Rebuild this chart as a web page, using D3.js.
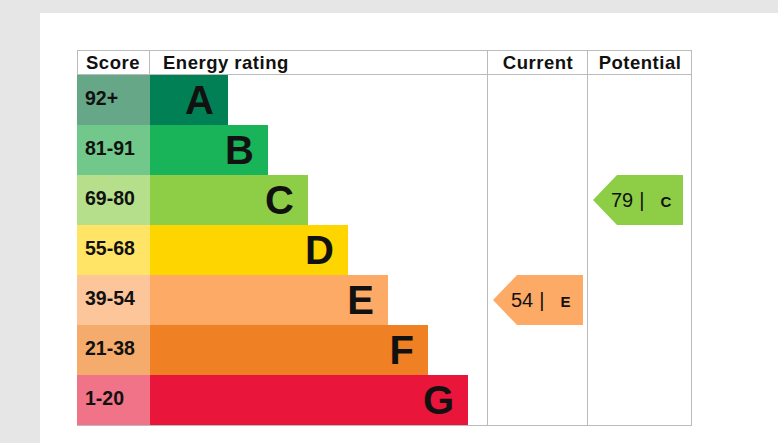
<!DOCTYPE html>
<html><head><meta charset="utf-8">
<script src="https://cdn.jsdelivr.net/npm/d3@7"></script>
<style>
html,body{margin:0;padding:0;background:#e6e6e6;}
svg{display:block;font-family:Arial,"Liberation Sans",Helvetica,sans-serif;}
</style></head>
<body>
<svg id="chart" width="778" height="443"></svg>
<script>
const ratings = ["A","B","C","D","E","F","G"];
const scoreRanges = ["92+","81-91","69-80","55-68","39-54","21-38","1-20"];
const barLevels = [1,2,3,4,5,6,7];
const barColors = ["#008054","#19b459","#8dce46","#ffd500","#fcaa65","#ef8023","#e9153b"];
const scoreColors = ["#66a787","#72c88a","#b5df8a","#ffe466","#fdc59a","#f4ab6b","#f17388"];
const headers = ["Score","Energy rating","Current","Potential"];
const currentRating = "E", currentScore = 54;
const potentialRating = "C", potentialScore = 79;

(function(){
const svg = d3.select("#chart");
svg.append("rect").attr("x",40).attr("y",13).attr("width",738).attr("height",430).attr("fill","#fff");

const L = 77, scoreRight = 150, ratingRight = 487, currentRight = 587, R = 691;
const T = 50, headBottom = 75, B = 425;
const grid = "#bbbbbb";

const y = d3.scaleBand().domain(ratings).range([headBottom, B]).padding(0);
const x = d3.scaleLinear().domain([0,7]).range([38, 318]);

// score cells
svg.selectAll("rect.score").data(ratings).join("rect").attr("class","score")
  .attr("x",L).attr("y",d=>y(d)).attr("width",scoreRight-L).attr("height",y.bandwidth())
  .attr("fill",(d,i)=>scoreColors[i]);
svg.selectAll("text.score").data(ratings).join("text").attr("class","score")
  .attr("x",L+8).attr("y",d=>y(d)+y.bandwidth()/2+5)
  .attr("font-size",19.5).attr("font-weight","bold").attr("fill","#111")
  .text((d,i)=>scoreRanges[i]);

// bars
svg.selectAll("rect.bar").data(ratings).join("rect").attr("class","bar")
  .attr("x",scoreRight).attr("y",d=>y(d)).attr("width",(d,i)=>x(barLevels[i])).attr("height",y.bandwidth())
  .attr("fill",(d,i)=>barColors[i]);
svg.selectAll("text.bar").data(ratings).join("text").attr("class","bar")
  .attr("x",(d,i)=>scoreRight+x(barLevels[i])-14).attr("y",d=>y(d)+y.bandwidth()/2+14)
  .attr("text-anchor","end").attr("font-size",40).attr("font-weight","bold").attr("fill","#111")
  .text(d=>d);

// grid lines
const g = svg.append("g").attr("stroke",grid).attr("stroke-width",1).attr("shape-rendering","crispEdges");
g.append("line").attr("x1",L).attr("x2",R+0.5).attr("y1",T+0.5).attr("y2",T+0.5);
g.append("line").attr("x1",L).attr("x2",R+0.5).attr("y1",headBottom-0.5).attr("y2",headBottom-0.5);
g.append("line").attr("x1",L).attr("x2",R+0.5).attr("y1",B+0.5).attr("y2",B+0.5);
g.append("line").attr("x1",L+0.5).attr("x2",L+0.5).attr("y1",T).attr("y2",headBottom);
g.append("line").attr("x1",scoreRight-0.5).attr("x2",scoreRight-0.5).attr("y1",T).attr("y2",headBottom);
[ratingRight, currentRight, R].forEach(xx=>{
  g.append("line").attr("x1",xx+0.5).attr("x2",xx+0.5).attr("y1",T).attr("y2",B+1);
});

// headers
const hdrX = [L+9, scoreRight+13, (ratingRight+currentRight)/2+1, (currentRight+R)/2+1];
const hdrAnchor = ["start","start","middle","middle"];
svg.selectAll("text.hdr").data(headers).join("text").attr("class","hdr")
  .attr("x",(d,i)=>hdrX[i]).attr("y",69).attr("text-anchor",(d,i)=>hdrAnchor[i])
  .attr("font-size",18.5).attr("letter-spacing",0.5).attr("font-weight","bold").attr("fill","#111").text(d=>d);

// arrows
function arrow(x0, x1, rating, score){
  const i = ratings.indexOf(rating);
  const y0 = y(rating), h = y.bandwidth();
  const tip = 24;
  svg.append("path")
    .attr("d",`M${x0},${y0+h/2} L${x0+tip},${y0} L${x1},${y0} L${x1},${y0+h} L${x0+tip},${y0+h} Z`)
    .attr("fill",barColors[i]);
  const t = svg.append("text").attr("x",x0+18).attr("y",y0+h/2+7).attr("fill","#111");
  t.append("tspan").attr("font-size",20).text(score);
  t.append("tspan").attr("dx",6).attr("font-size",20).text("|");
  t.append("tspan").attr("dx",16).attr("font-size",15).attr("font-weight","bold").text(rating);
}
arrow(ratingRight+6, currentRight-4, currentRating, currentScore);
arrow(currentRight+6, R-8, potentialRating, potentialScore);
})();
</script>
</body></html>
